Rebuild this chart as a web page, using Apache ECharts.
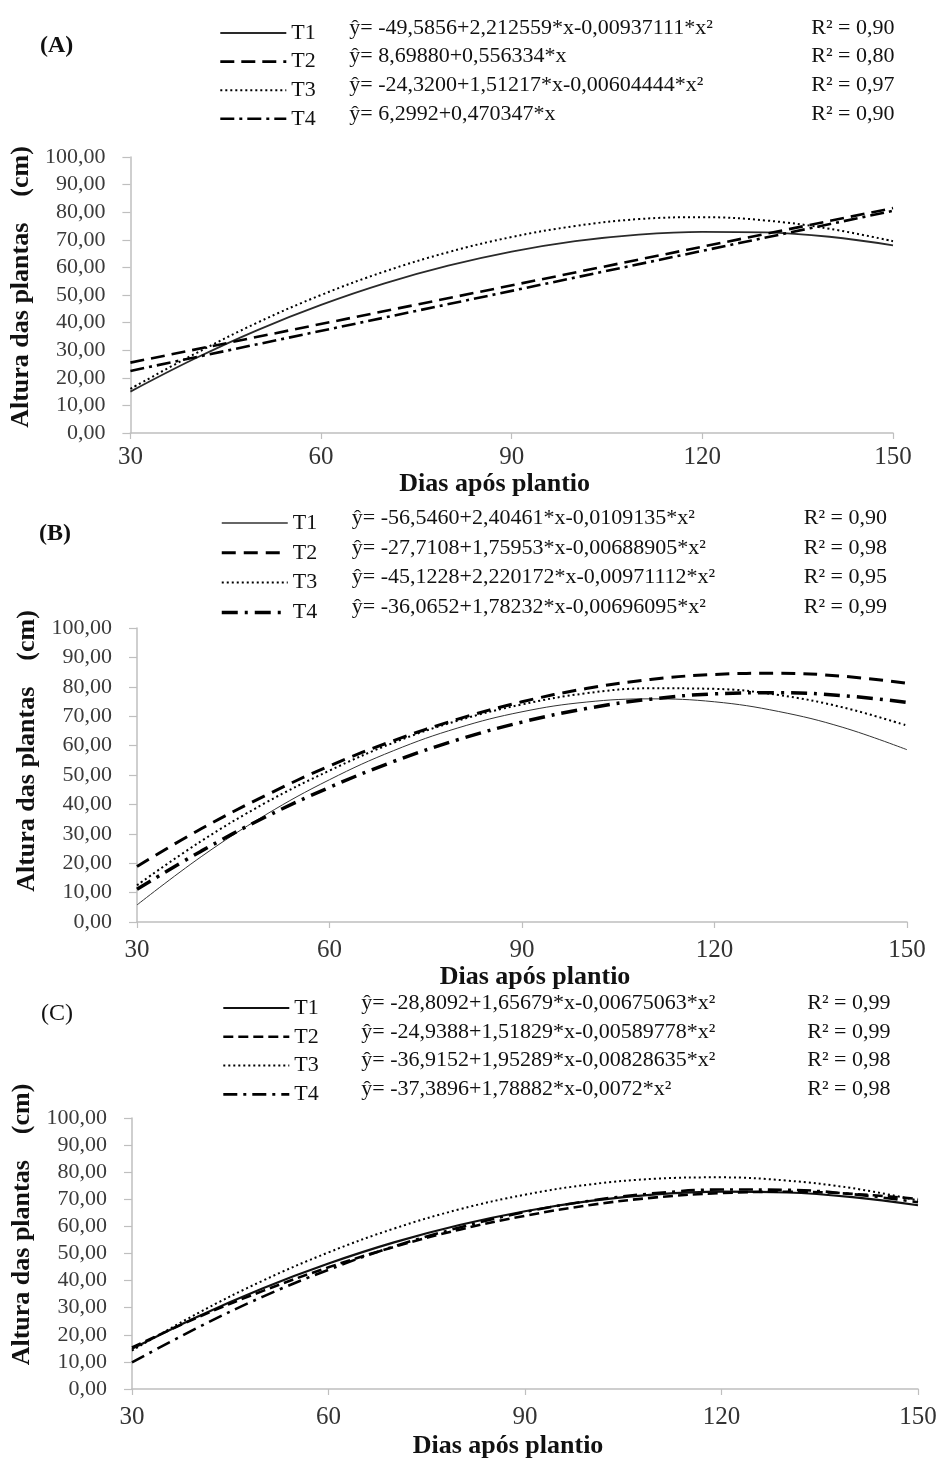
<!DOCTYPE html>
<html><head><meta charset="utf-8">
<script src="https://cdn.jsdelivr.net/npm/echarts@6/dist/echarts.min.js"></script>
<style>html,body{margin:0;padding:0;background:#fff}#c{width:940px;height:1460px}</style>
</head><body><div id="c"></div>
<script>
// ---------- data ----------
const days = [30, 40, 50, 60, 70, 80, 90, 100, 110, 120, 130, 140, 150];
const daysLinear = [30, 150];
const treatments = ['T1', 'T2', 'T3', 'T4'];
const xTicks = [30, 60, 90, 120, 150];

// Panel A
const aT1 = [15.0, 26.8, 37.3, 46.4, 54.2, 60.6, 65.7, 69.5, 71.9, 72.9, 72.7, 71.1, 68.0];
const aT2 = [25.5, 81.5];            // linear, at daysLinear
const aT3 = [16.0, 28.5, 40.0, 50.0, 58.5, 65.5, 71.0, 75.0, 77.5, 78.2, 77.0, 74.0, 69.5];
const aT4 = [22.5, 80.5];            // linear, at daysLinear
const eqA = ['ŷ= -49,5856+2,212559*x-0,00937111*x²', 'ŷ= 8,69880+0,556334*x',
             'ŷ= -24,3200+1,51217*x-0,00604444*x²', 'ŷ= 6,2992+0,470347*x'];
const r2A = ['0,90', '0,80', '0,97', '0,90'];

// Panel B
const bT1 = [5.8, 22.2, 36.4, 48.4, 58.3, 66.0, 71.5, 74.8, 75.9, 74.9, 71.6, 66.2, 58.6];
const bT2 = [18.9, 31.7, 43.0, 53.1, 61.7, 69.0, 74.9, 79.4, 82.5, 84.2, 84.6, 83.6, 81.2];
const bT3 = [12.5, 27.5, 40.5, 51.5, 61.0, 68.5, 74.0, 77.8, 79.5, 79.3, 77.2, 73.0, 66.8];
const bT4 = [11.1, 24.1, 35.7, 45.8, 54.6, 62.0, 68.0, 72.6, 75.8, 77.6, 78.0, 77.0, 74.7];
const eqB = ['ŷ= -56,5460+2,40461*x-0,0109135*x²', 'ŷ= -27,7108+1,75953*x-0,00688905*x²',
             'ŷ= -45,1228+2,220172*x-0,00971112*x²', 'ŷ= -36,0652+1,78232*x-0,00696095*x²'];
const r2B = ['0,90', '0,98', '0,95', '0,99'];

// Panel C
const cT1 = [14.8, 26.7, 37.2, 46.3, 54.1, 60.5, 65.6, 69.4, 71.8, 72.8, 72.5, 70.8, 67.8];
const cT2 = [15.3, 26.4, 36.2, 44.9, 52.4, 58.8, 63.9, 67.9, 70.7, 72.3, 72.8, 72.0, 70.1];
const cT3 = [14.2, 27.9, 40.0, 50.4, 59.2, 66.3, 71.7, 75.5, 77.6, 78.1, 76.9, 74.1, 69.6];
const cT4 = [9.8, 22.6, 34.1, 44.0, 52.6, 59.6, 65.3, 69.5, 72.3, 73.6, 73.5, 71.9, 68.9];
const eqC = ['ŷ= -28,8092+1,65679*x-0,00675063*x²', 'ŷ= -24,9388+1,51829*x-0,00589778*x²',
             'ŷ= -36,9152+1,95289*x-0,00828635*x²', 'ŷ= -37,3896+1,78882*x-0,0072*x²'];
const r2C = ['0,99', '0,99', '0,98', '0,98'];

// ---------- styling / layout ----------
const SERIF = 'Liberation Serif';
const panels = [
  { key: 'A', label: '(A)', labelBold: true, labelPos: [40, 34],
    grid: { left: 129, right: 47, top: 157, height: 276 },
    xs: [days, daysLinear, days, daysLinear], ys: [aT1, aT2, aT3, aT4], eq: eqA, r2: r2A,
    styles: [
      { color: '#2a2a2a', width: 1.8, type: 'solid' },
      { color: '#000', width: 2.6, type: [14, 7] },
      { color: '#000', width: 2, type: [2, 3] },
      { color: '#000', width: 2.6, type: [14, 5, 3, 5] }],
    legend: { left: 214, top: 12, gap: -3.4, tW: 58, eW: 462 },
    yNameGap: 87, yNamePad: 16, xLabelMargin: 12, xNameGap: 36, xNamePad: [0, 34, 0, 0] },
  { key: 'B', label: '(B)', labelBold: true, labelPos: [39, 522],
    grid: { left: 137, right: 33, top: 628, height: 294 },
    xs: [days, days, days, days], ys: [bT1, bT2, bT3, bT4], eq: eqB, r2: r2B,
    styles: [
      { color: '#333', width: 1, type: 'solid' },
      { color: '#000', width: 3, type: [14, 8] },
      { color: '#000', width: 2, type: [2, 3] },
      { color: '#000', width: 3.5, type: [16, 7, 3, 7] }],
    legend: { left: 215, top: 502, gap: -2.2, tW: 59, eW: 452 },
    yNameGap: 94, yNamePad: 48, xLabelMargin: 16, xNameGap: 38, xNamePad: [0, 0, 0, 26] },
  { key: 'C', label: '(C)', labelBold: false, labelPos: [41, 1002],
    grid: { left: 132, right: 22, top: 1118, height: 271 },
    xs: [days, days, days, days], ys: [cT1, cT2, cT3, cT4], eq: eqC, r2: r2C,
    styles: [
      { color: '#111', width: 2.2, type: 'solid' },
      { color: '#000', width: 2.6, type: [10, 5] },
      { color: '#000', width: 2, type: [2, 3] },
      { color: '#000', width: 2.6, type: [14, 6, 3, 6] }],
    legend: { left: 217, top: 987, gap: -3.2, tW: 67, eW: 446 },
    yNameGap: 90, yNamePad: 58, xLabelMargin: 16, xNameGap: 44, xNamePad: [0, 34, 0, 0] }
];

const grids = [], xAxes = [], yAxes = [], series = [], legends = [], graphics = [];
const axisGray = '#bfbfbf';

panels.forEach((p, pi) => {
  grids.push(Object.assign({ containLabel: false }, p.grid));
  xAxes.push({
    type: 'value', gridIndex: pi, min: xTicks[0], max: xTicks[xTicks.length - 1], interval: 30,
    axisLine: { lineStyle: { color: axisGray, width: 1.5 } },
    axisTick: { show: true, length: 6, lineStyle: { color: axisGray, width: 1.2 } },
    splitLine: { show: false },
    axisLabel: { fontFamily: SERIF, fontSize: 25, color: '#333', margin: p.xLabelMargin },
    name: 'Dias após plantio', nameLocation: 'middle', nameGap: p.xNameGap,
    nameTextStyle: { fontFamily: SERIF, fontWeight: 'bold', fontSize: 26, color: '#111', padding: p.xNamePad }
  });
  yAxes.push({
    type: 'value', gridIndex: pi, min: 0, max: 100, interval: 10,
    axisLine: { show: true, lineStyle: { color: axisGray, width: 1.5 } },
    axisTick: { show: true, length: 8, lineStyle: { color: axisGray, width: 1.2 } },
    splitLine: { show: false },
    axisLabel: { fontFamily: SERIF, fontSize: 22, color: '#3a3a3a', margin: 25,
      formatter: v => v.toFixed(2).replace('.', ',') },
    name: 'Altura das plantas    (cm)', nameLocation: 'middle', nameGap: p.yNameGap,
    nameTextStyle: { fontFamily: SERIF, fontWeight: 'bold', fontSize: 26, color: '#111', padding: [0, 0, 0, p.yNamePad] }
  });
  treatments.forEach((t, i) => {
    const st = p.styles[i];
    series.push({
      name: p.key + t, type: 'line', xAxisIndex: pi, yAxisIndex: pi,
      data: p.xs[i].map((d, k) => [d, p.ys[i][k]]),
      smooth: p.xs[i].length > 2 ? 0.4 : false, symbol: 'none', silent: true,
      lineStyle: { color: st.color, width: st.width, type: st.type },
      itemStyle: { color: st.color }
    });
  });
  legends.push({
    orient: 'vertical', left: p.legend.left, top: p.legend.top, itemGap: p.legend.gap,
    itemWidth: 66, itemHeight: 14, selectedMode: false,
    itemStyle: { opacity: 0 },
    data: treatments.map((t, i) => ({ name: p.key + t,
      lineStyle: { color: p.styles[i].color, width: Math.max(p.styles[i].width, 1.5), type: p.styles[i].type } })),
    formatter: name => {
      const i = treatments.indexOf(name.slice(1));
      return '{t|' + treatments[i] + '}{e|' + p.eq[i] + '}{r|R² = ' + p.r2[i] + '}';
    },
    textStyle: { rich: {
      t: { fontFamily: SERIF, fontSize: 22, color: '#111', width: p.legend.tW, lineHeight: 20 },
      e: { fontFamily: SERIF, fontSize: 22, color: '#111', width: p.legend.eW, lineHeight: 20, padding: [0, 0, 10, 0] },
      r: { fontFamily: SERIF, fontSize: 22, color: '#111', lineHeight: 20, padding: [0, 0, 10, 0] }
    } }
  });
  graphics.push({ type: 'text', left: p.labelPos[0], top: p.labelPos[1],
    style: { text: p.label, fontFamily: SERIF, fontSize: 24, fontWeight: p.labelBold ? 'bold' : 'normal', fill: '#111' } });
});

const chart = echarts.init(document.getElementById('c'), null, { renderer: 'canvas' });
chart.setOption({
  backgroundColor: '#fff', animation: false,
  grid: grids, xAxis: xAxes, yAxis: yAxes, series: series, legend: legends, graphic: graphics
});
</script>
</body></html>
